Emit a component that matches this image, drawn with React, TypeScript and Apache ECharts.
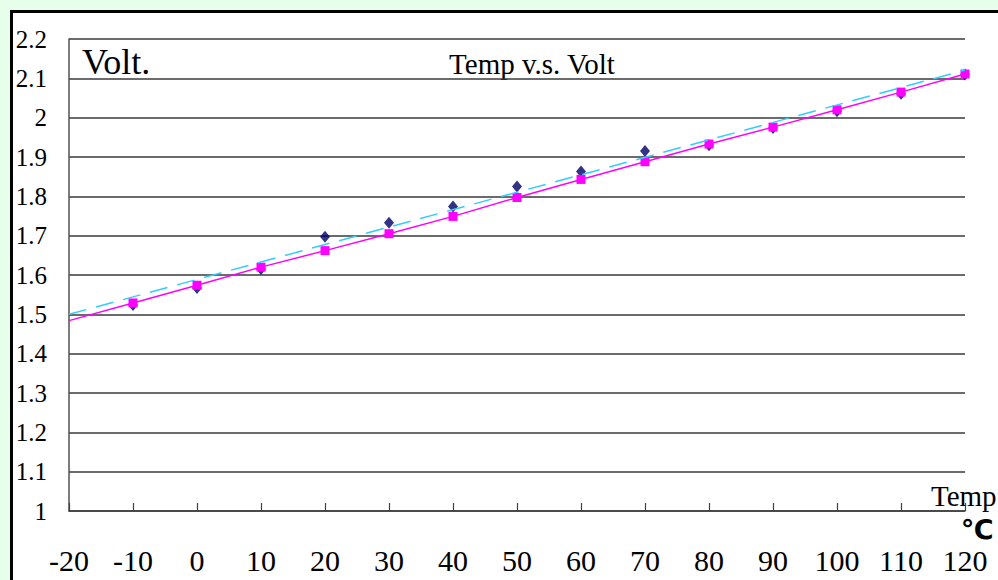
import React, { useEffect, useRef } from "react";
import * as echarts from "echarts";

const xTicks = [-20, -10, 0, 10, 20, 30, 40, 50, 60, 70, 80, 90, 100, 110, 120];
const temps = [-10, 0, 10, 20, 30, 40, 50, 60, 70, 80, 90, 100, 110, 120];
const measured = [1.524, 1.567, 1.615, 1.697, 1.733, 1.774, 1.825, 1.863, 1.915, 1.93, 1.974, 2.016, 2.061, 2.11];
const fitted = [1.529, 1.574, 1.62, 1.662, 1.705, 1.749, 1.797, 1.843, 1.888, 1.933, 1.976, 2.02, 2.065, 2.111];
const fittedStart = [-20, 1.484];
const trendLine = [
  [-20, 1.5],
  [120, 2.121],
];

export default function App() {
  const ref = useRef<HTMLDivElement>(null);
  useEffect(() => {
    if (!ref.current) return;
    const chart = echarts.init(ref.current, null, { renderer: "svg" });
    const serif = "'Liberation Serif', 'Times New Roman', serif";
    chart.setOption({
      animation: false,
      backgroundColor: "transparent",
      grid: { left: 69, top: 39, right: 33, bottom: 69, containLabel: false },
      xAxis: {
        type: "value",
        min: -20,
        max: 120,
        interval: 10,
        axisLine: { show: true, onZero: false, lineStyle: { color: "#404040", width: 1.5 } },
        axisTick: { show: true, inside: true, length: 8, lineStyle: { color: "#404040", width: 1.2 } },
        splitLine: { show: false },
        axisLabel: {
          margin: 34,
          color: "#000",
          fontFamily: serif,
          fontSize: 30,
          formatter: (v: number) => (xTicks.includes(v) ? String(v) : ""),
        },
      },
      yAxis: {
        type: "value",
        min: 1,
        max: 2.2,
        interval: 0.1,
        axisLine: { show: true, onZero: false, lineStyle: { color: "#505050", width: 1.5 } },
        axisTick: { show: false },
        splitLine: { show: true, lineStyle: { color: "#3a3a3a", width: 1.6 } },
        axisLabel: {
          margin: 22,
          color: "#000",
          fontFamily: serif,
          fontSize: 25,
          padding: [4, 0, 0, 0],
          formatter: (v: number) => String(Math.round(v * 10) / 10),
        },
      },
      graphic: [
        {
          type: "text",
          left: 82,
          top: 44,
          style: { text: "Volt.", font: `36px ${serif}`, fill: "#000" },
        },
        {
          type: "text",
          x: 532,
          y: 64,
          style: {
            text: "Temp v.s. Volt",
            font: `29px ${serif}`,
            fill: "#000",
            textAlign: "center",
            textVerticalAlign: "middle",
          },
        },
        {
          type: "text",
          x: 931,
          y: 496,
          style: { text: "Temp", font: `29px ${serif}`, fill: "#000", textAlign: "left", textVerticalAlign: "middle" },
        },
        {
          type: "text",
          x: 961,
          y: 529,
          style: {
            text: "℃",
            font: "bold 27px 'DejaVu Sans', sans-serif",
            fill: "#000",
            textAlign: "left",
            textVerticalAlign: "middle",
          },
        },
      ],
      series: [
        {
          name: "Measured",
          type: "scatter",
          symbol: "diamond",
          symbolSize: [10, 12],
          itemStyle: { color: "#000066" },
          data: temps.map((t, i) => [t, measured[i]]),
          z: 2,
        },
        {
          name: "Fitted",
          type: "line",
          symbol: "rect",
          symbolSize: 9,
          showAllSymbol: true,
          lineStyle: { color: "#ff00ff", width: 1.5 },
          itemStyle: { color: "#ff00ff" },
          data: [{ value: fittedStart, symbol: "none" }, ...temps.map((t, i) => [t, fitted[i]])],
          z: 3,
        },
        {
          name: "Trend",
          type: "line",
          symbol: "none",
          lineStyle: { color: "#33ccff", width: 1.5, type: [18, 10] },
          data: trendLine,
          z: 4,
        },
      ],
    });
    return () => chart.dispose();
  }, []);

  return (
    <div
      style={{
        position: "fixed",
        left: 0,
        top: 0,
        width: 998,
        height: 580,
        background: "#e6ffea",
        overflow: "hidden",
      }}
    >
      <div
        style={{
          position: "absolute",
          left: 10,
          top: 10,
          width: 1000,
          height: 600,
          background: "#fff",
          borderLeft: "3px solid #000",
          borderTop: "3px solid #000",
        }}
      />
      <div ref={ref} style={{ position: "absolute", left: 0, top: 0, width: 998, height: 580 }} />
    </div>
  );
}
